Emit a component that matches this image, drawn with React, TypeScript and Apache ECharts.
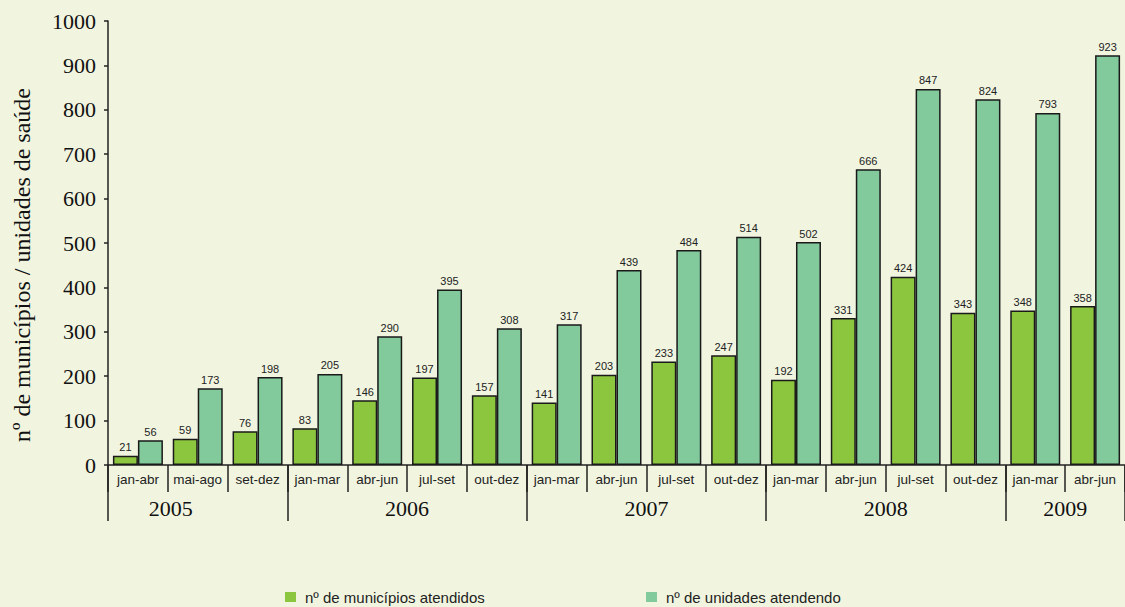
import React, { useEffect, useRef } from "react";
import * as echarts from "echarts";

const categories = [
  "jan-abr", "mai-ago", "set-dez",
  "jan-mar", "abr-jun", "jul-set", "out-dez",
  "jan-mar", "abr-jun", "jul-set", "out-dez",
  "jan-mar", "abr-jun", "jul-set", "out-dez",
  "jan-mar", "abr-jun",
];
const municipios = [21, 59, 76, 83, 146, 197, 157, 141, 203, 233, 247, 192, 331, 424, 343, 348, 358];
const unidades = [56, 173, 198, 205, 290, 395, 308, 317, 439, 484, 514, 502, 666, 847, 824, 793, 923];
const years = ["2005", "2006", "2007", "2008", "2009"];
const yearBoundaries = [0, 3, 7, 11, 15, 17];
const yearLabelPos = [1.05, 5, 9, 13, 16];
const yTicks = [0, 100, 200, 300, 400, 500, 600, 700, 800, 900, 1000];

const SERIF = "'Liberation Serif', 'Times New Roman', serif";
const SANS = "'Liberation Sans', Arial, sans-serif";

export default function App() {
  const ref = useRef<HTMLDivElement>(null);
  useEffect(() => {
    if (!ref.current) return;
    const chart = echarts.init(ref.current, null, { renderer: "svg" });
    const barLabel = {
      show: true,
      position: "top" as const,
      distance: 3,
      color: "#222",
      fontFamily: SANS,
      fontSize: 11,
    };
    const legendText = { fontFamily: SANS, fontSize: 15, lineHeight: 16, color: "#222", padding: [0, 0, 0, 4] };
    chart.setOption({
      animation: false,
      backgroundColor: "#f1f5e0",
      grid: { left: 108, top: 21, height: 444, width: 1022 },
      legend: [
        {
          data: ["nº de municípios atendidos"],
          left: 285,
          top: 589,
          padding: 0,
          itemWidth: 11,
          itemHeight: 10,
          icon: "rect",
          itemStyle: { borderWidth: 0 },
          textStyle: legendText,
        },
        {
          data: ["nº de unidades atendendo"],
          left: 646,
          top: 589,
          padding: 0,
          itemWidth: 11,
          itemHeight: 10,
          icon: "rect",
          itemStyle: { borderWidth: 0 },
          textStyle: legendText,
        },
      ],
      xAxis: [
        {
          type: "category",
          data: categories,
          position: "bottom",
          boundaryGap: true,
          axisLine: { show: true, lineStyle: { color: "#222", width: 1.5 } },
          axisTick: { show: true, interval: 0, length: 27, lineStyle: { color: "#222", width: 1.5 } },
          axisLabel: { interval: 0, margin: 7, color: "#222", fontFamily: SANS, fontSize: 13.5 },
          splitLine: { show: false },
        },
        {
          type: "value",
          min: 0,
          max: 17,
          position: "bottom",
          axisLine: { show: false },
          splitLine: { show: false },
          axisTick: {
            show: true,
            customValues: yearBoundaries,
            length: 56,
            lineStyle: { color: "#222", width: 1.5 },
          },
          axisLabel: {
            customValues: yearLabelPos,
            margin: 32,
            color: "#111",
            fontFamily: SERIF,
            fontSize: 22,
            formatter: (v: number) => {
              let best = 0;
              yearLabelPos.forEach((p, i) => {
                if (Math.abs(p - v) < Math.abs(yearLabelPos[best] - v)) best = i;
              });
              return years[best];
            },
          },
        },
      ],
      yAxis: {
        type: "value",
        min: 0,
        max: 1000,
        interval: 100,
        axisLine: { show: true, lineStyle: { color: "#222", width: 1.5 } },
        axisTick: { show: true, length: 4, lineStyle: { color: "#222", width: 1.5 } },
        axisLabel: {
          margin: 12,
          color: "#111",
          fontFamily: SERIF,
          fontSize: 22,
          customValues: yTicks,
          formatter: (v: number) => String(v),
        },
        splitLine: { show: false },
      },
      graphic: [
        {
          type: "text",
          x: 22,
          y: 265,
          rotation: Math.PI / 2,
          style: {
            text: "nº de municípios / unidades de saúde",
            textAlign: "center",
            textVerticalAlign: "middle",
            fontFamily: SERIF,
            fontSize: 24,
            fill: "#111",
          },
        },
      ],
      series: [
        {
          name: "nº de municípios atendidos",
          type: "bar",
          xAxisIndex: 0,
          data: municipios,
          barWidth: 25,
          barGap: "0%",
          itemStyle: { color: "#8cc63e", borderColor: "#1a1a1a", borderWidth: 1.5 },
          label: barLabel,
        },
        {
          name: "nº de unidades atendendo",
          type: "bar",
          xAxisIndex: 0,
          data: unidades,
          barWidth: 25,
          barGap: "0%",
          itemStyle: { color: "#82c99c", borderColor: "#1a1a1a", borderWidth: 1.5 },
          label: barLabel,
        },
      ],
    });
    return () => chart.dispose();
  }, []);
  return (
    <div
      ref={ref}
      style={{ position: "fixed", left: 0, top: 0, width: 1125, height: 607, background: "#f1f5e0" }}
    />
  );
}
